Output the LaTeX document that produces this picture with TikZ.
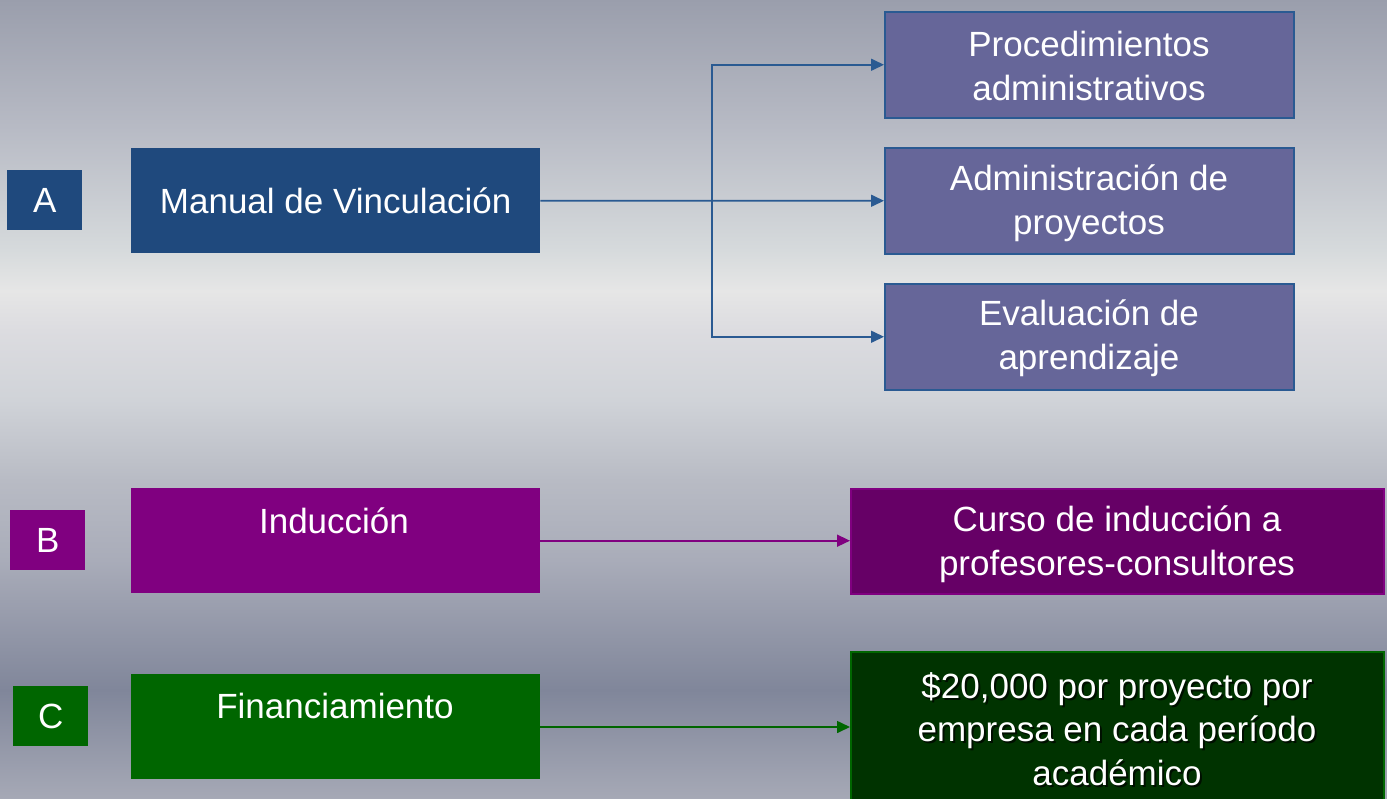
\documentclass[tikz,border=0pt]{standalone}
\usepackage{fontspec}
\setmainfont{Liberation Sans}
\usetikzlibrary{arrows.meta}
\definecolor{bgA}{HTML}{9A9EAC}
\definecolor{bgB}{HTML}{B8BBC5}
\definecolor{bgC}{HTML}{D6DADC}
\definecolor{bgD}{HTML}{E6E6E6}
\definecolor{bgE}{HTML}{DCDCE0}
\definecolor{bgF}{HTML}{D0D3D8}
\definecolor{bgG}{HTML}{B8BBC4}
\definecolor{bgH}{HTML}{A9ACB9}
\definecolor{bgI}{HTML}{80869A}
\definecolor{bgJ}{HTML}{A6A9B6}
\definecolor{navy}{HTML}{1F497D}
\definecolor{navyline}{HTML}{2A5A92}
\definecolor{lav}{HTML}{666699}
\definecolor{purp}{HTML}{800080}
\definecolor{dpurp}{HTML}{660066}
\definecolor{grn}{HTML}{006600}
\definecolor{dgrn}{HTML}{003300}
\tikzset{
  big/.style={font=\fontsize{35}{43.5}\selectfont, text=white, align=center},
  letterbox/.style={anchor=north west, inner sep=0pt, minimum width=75pt, minimum height=60pt, big},
  mainbox/.style={anchor=north west, inner sep=0pt, minimum width=409pt, minimum height=105pt, big},
  subbox/.style={anchor=north west, inner sep=0pt, minimum width=409pt, minimum height=106pt, big, fill=lav, draw=navyline, line width=1.5pt},
  widebox/.style={anchor=north west, inner sep=0pt, minimum width=533pt, minimum height=105pt, big},
  conn/.style={line width=1.6pt, -{Triangle[length=13pt,width=12pt]}},
}
\begin{document}
\begin{tikzpicture}[x=1pt,y=-1pt]
\useasboundingbox (0,0) rectangle (1387,798);
% background gradient
\fill[top color=bgA, bottom color=bgB] (0,-1) rectangle (1387,130.5);
\fill[top color=bgB, bottom color=bgC] (0,130) rectangle (1387,250.5);
\fill[top color=bgC, bottom color=bgD] (0,250) rectangle (1387,290.5);
\fill[top color=bgD, bottom color=bgE] (0,290) rectangle (1387,330.5);
\fill[top color=bgE, bottom color=bgF] (0,330) rectangle (1387,400.5);
\fill[top color=bgF, bottom color=bgG] (0,400) rectangle (1387,480.5);
\fill[top color=bgG, bottom color=bgH] (0,480) rectangle (1387,560.5);
\fill[top color=bgH, bottom color=bgI] (0,560) rectangle (1387,690.5);
\fill[top color=bgI, bottom color=bgJ] (0,690) rectangle (1387,799);

% row A
\node[letterbox, fill=navy] (la) at (7,170) {A};
\node[mainbox, fill=navy] (man) at (131,148) {Manual de Vinculación};
\node[subbox] (proc) at (884,11) {};
\node[big] (proct) at (1089,66) {Procedimientos\\administrativos};
\node[subbox] (adm) at (884,147) {};
\node[big] (admt) at (1089,203) {Administración de\\proyectos};
\node[subbox] (eval) at (884,283) {};
\node[big] (evalt) at (1089,338) {Evaluación de\\aprendizaje};
\coordinate (elb) at (712,200);
\draw[conn, navyline] (man.east) -- (adm.west);
\draw[conn, navyline] (elb) |- (proc.west);
\draw[conn, navyline] (elb) |- (eval.west);

% row B
\node[letterbox, fill=purp] (lb) at (10,510) {B};
\node[mainbox, fill=purp] (ind) at (131,488) {};
\node[big] (indt) at (334,521) {Inducción};
\node[widebox, fill=dpurp, draw=purp, line width=2pt] (cur) at (850,488) {};
\node[big] (curt) at (1117,544) {Curso de inducción a\\profesores-consultores};
\draw[conn, purp] (ind.east) -- (cur.west |- ind.east);

% row C
\node[letterbox, fill=grn] (lc) at (13,686) {C};
\node[mainbox, fill=grn] (fin) at (131,674) {};
\node[big] (fint) at (335,706) {Financiamiento};
\begin{scope}
\clip (0,0) rectangle (1387,798);
\node[anchor=north west, inner sep=0pt, minimum width=533pt, minimum height=170pt, fill=dgrn, draw=grn, line width=2pt] (mon) at (850,651) {};
\end{scope}
\coordinate (monw) at (850,727);
\draw[conn, grn] (fin.east |- monw) -- (monw);
\node[big, text=black, opacity=0.7] (mons) at (1119,731) {\$20,000 por proyecto por\\empresa en cada período\\académico};
\node[big] (mont) at (1117,729) {\$20,000 por proyecto por\\empresa en cada período\\académico};
\end{tikzpicture}
\end{document}
